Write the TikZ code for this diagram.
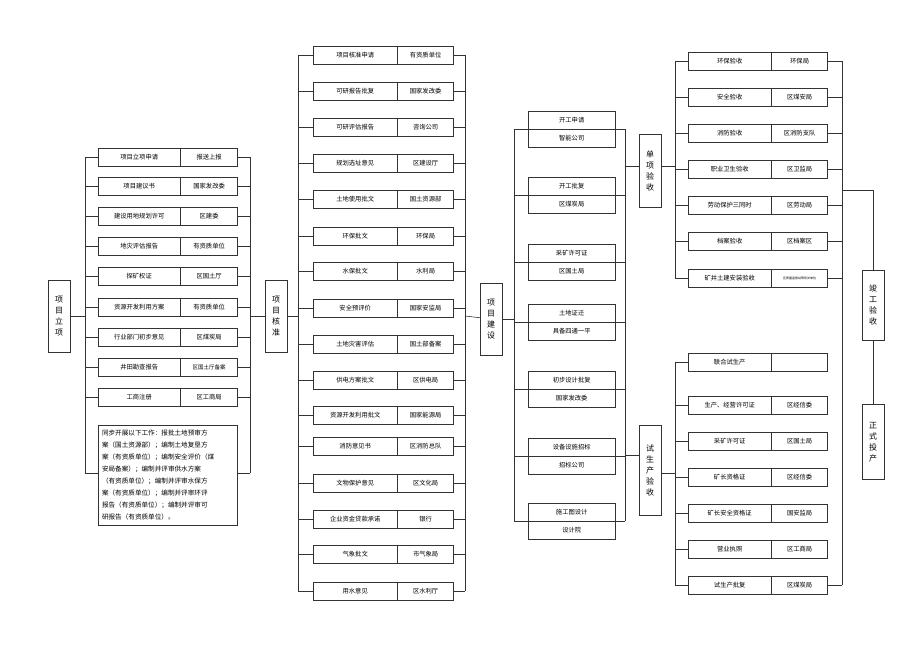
\documentclass[tikz,border=0pt]{standalone}
\usepackage{fontspec}
\newfontfamily\cjk{Noto Sans CJK SC}
\usetikzlibrary{positioning}
\definecolor{linec}{HTML}{333333}
\tikzset{
  cell/.style={draw=linec, minimum height=18pt, inner sep=0pt, font=\cjk\fontsize{6.3}{7}\selectfont},
  phase/.style={draw=linec, minimum width=22pt, inner sep=1pt, align=center, font=\cjk\fontsize{8}{11}\selectfont},
  bus/.style={draw=linec, line width=0.6pt}
}
\begin{document}
\begin{tikzpicture}[x=1pt,y=-1pt]
\useasboundingbox (0,0) rectangle (920,651);
% phase boxes
\node[phase, minimum height=72pt] (lixiang) at (59,316) {项\\目\\立\\项};
\node[phase, minimum height=72pt] (hezhun) at (276,316) {项\\目\\核\\准};
\node[phase, minimum height=72pt] (jianshe) at (491,319) {项\\目\\建\\设};
\node[phase, minimum height=73pt] (danxiang) at (650,171) {单\\项\\验\\收};
\node[phase, minimum height=90pt] (shisheng) at (650,470) {试\\生\\产\\验\\收};
\node[phase, minimum height=70pt] (jungong) at (873,305) {竣\\工\\验\\收};
\node[phase, minimum height=75pt] (touchan) at (873,442) {正\\式\\投\\产};

% column 1
\foreach \y/\a/\b [count=\i] in {157/项目立项申请/报送上报, 186/项目建议书/国家发改委,
  216/建设用地规划许可/区建委, 246/地灾评估报告/有资质单位, 276/探矿权证/区国土厅,
  307/资源开发利用方案/有资质单位, 337/行业部门初步意见/区煤炭局,
  367/井田勘查报告/{\fontsize{5.5}{6}\selectfont 区国土厅备案}, 397/工商注册/区工商局}
{
  \node[cell, minimum width=82pt, anchor=west] (A\i) at (98,\y) {\a};
  \node[cell, minimum width=57pt, right=0pt of A\i] (Ar\i) {\b};
  \coordinate (Al\i) at (85,\y);
  \coordinate (Ab\i) at (250,\y);
  \draw[bus] (Al\i) -- (A\i);
  \draw[bus] (Ar\i) -- (Ab\i);
}
\node[draw=linec, text width=131pt, minimum height=100pt, inner sep=4pt, align=left,
  font=\cjk\fontsize{6.6}{12}\selectfont] (tongbu) at (167.5,475) {%
  同步开展以下工作：报批土地预审方\\
  案（国土资源部）；编制土地复垦方\\
  案（有资质单位）；编制安全评价（煤\\
  安局备案）；编制并评审供水方案\\
  （有资质单位）；编制并评审水保方\\
  案（有资质单位）；编制并评审环评\\
  报告（有资质单位）；编制并评审可\\
  研报告（有资质单位）。};
\coordinate (Al10) at (85,473);
\coordinate (Ab10) at (250,473);
\draw[bus] (Al10) -- (tongbu.west |- Al10);
\draw[bus] (tongbu.east |- Ab10) -- (Ab10);
\draw[bus] (Al1) -- (Al10);
\draw[bus] (Ab1) -- (Ab10);
\coordinate (Alm) at (85,316);
\coordinate (Abm) at (250,316);
\draw[bus] (lixiang) -- (Alm);
\draw[bus] (Abm) -- (hezhun);

% column 2
\foreach \y/\a/\b [count=\i] in {55/项目核准申请/有资质单位, 91/可研报告批复/国家发改委,
  127/可研评估报告/咨询公司, 163/规划选址意见/区建设厅, 199/土地使用批文/国土资源部,
  236/环保批文/环保局, 271/水保批文/水利局, 308/安全预评价/国家安监局,
  344/土地灾害评估/国土部备案, 380/供电方案批文/区供电局, 415/资源开发利用批文/国家能源局,
  446/消防意见书/区消防总队, 483/文物保护意见/区文化局, 519/企业资金贷款承诺/银行,
  554/气象批文/市气象局, 591/用水意见/区水利厅}
{
  \node[cell, minimum width=84pt, anchor=west] (B\i) at (313,\y) {\a};
  \node[cell, minimum width=56pt, right=0pt of B\i] (Br\i) {\b};
  \coordinate (Bl\i) at (298,\y);
  \coordinate (Bb\i) at (465,\y);
  \draw[bus] (Bl\i) -- (B\i);
  \draw[bus] (Br\i) -- (Bb\i);
}
\draw[bus] (Bl1) -- (Bl16);
\draw[bus] (Bb1) -- (Bb16);
\coordinate (Blm) at (298,316);
\coordinate (Bbm) at (465,316);
\draw[bus] (hezhun) -- (Blm);
\draw[bus] (Bbm) -- (jianshe);

% column 3
\foreach \y/\a/\b [count=\i] in {129/开工申请/智能公司, 195/开工批复/区煤炭局,
  262/采矿许可证/区国土局, 322/土地证迁/具备四通一平, 389/初步设计批复/国家发改委,
  456/设备设施招标/招标公司, 521/施工图设计/设计院}
{
  \node[cell, minimum width=87pt, anchor=south west] (C\i) at (528,\y) {\a};
  \node[cell, minimum width=87pt, below=0pt of C\i] (Cr\i) {\b};
  \coordinate (Cl\i) at (514,\y);
  \coordinate (Cb\i) at (625,\y);
  \draw[bus] (Cl\i) -- (Cb\i);
}
\draw[bus] (Cl1) -- (Cl7);
\draw[bus] (Cb1) -- (Cb7);
\coordinate (Clm) at (514,319);
\draw[bus] (jianshe) -- (Clm);
\coordinate (Cbd) at (625,166);
\coordinate (Cbs) at (625,455);
\draw[bus] (Cbd) -- (danxiang.west |- Cbd);
\draw[bus] (Cbs) -- (shisheng.west |- Cbs);

% column 4, single acceptance
\foreach \y/\a/\b [count=\i] in {61/环保验收/环保局, 97/安全验收/区煤安局,
  133/消防验收/区消防支队, 169/职业卫生验收/区卫监局, 205/劳动保护三同时/区劳动局,
  241/档案验收/区档案区, 278/矿井土建安装验收/{\fontsize{3}{4}\selectfont 区质量监督站等有关单位}}
{
  \node[cell, minimum width=83pt, anchor=west] (D\i) at (688,\y) {\a};
  \node[cell, minimum width=56pt, right=0pt of D\i] (Dr\i) {\b};
  \coordinate (Dl\i) at (675,\y);
  \coordinate (Db\i) at (842,\y);
  \draw[bus] (Dl\i) -- (D\i);
  \draw[bus] (Dr\i) -- (Db\i);
}
\draw[bus] (Dl1) -- (Dl7);
\coordinate (Dlm) at (675,166);
\draw[bus] (danxiang.east |- Dlm) -- (Dlm);

% column 4, trial production
\foreach \y/\a/\b [count=\i] in {362/联合试生产/{}, 405/生产、经营许可证/区经信委,
  441/采矿许可证/区国土局, 477/矿长资格证/区经信委, 513/矿长安全资格证/国安监局,
  549/营业执照/区工商局, 585/试生产批复/区煤炭局}
{
  \node[cell, minimum width=83pt, anchor=west] (E\i) at (688,\y) {\a};
  \node[cell, minimum width=56pt, right=0pt of E\i] (Er\i) {\b};
  \coordinate (El\i) at (675,\y);
  \draw[bus] (El\i) -- (E\i);
}
\coordinate (Eb7) at (842,585);
\draw[bus] (Er7) -- (Eb7);
\draw[bus] (El1) -- (El7);
\coordinate (Elm) at (675,473);
\draw[bus] (shisheng.east |- Elm) -- (Elm);

% completion and production
\draw[bus] (Db1) -- (Eb7);
\coordinate (Jg) at (842,190);
\draw[bus] (Jg) -| (jungong.north);
\draw[bus] (jungong) -- (touchan);
\end{tikzpicture}
\end{document}
